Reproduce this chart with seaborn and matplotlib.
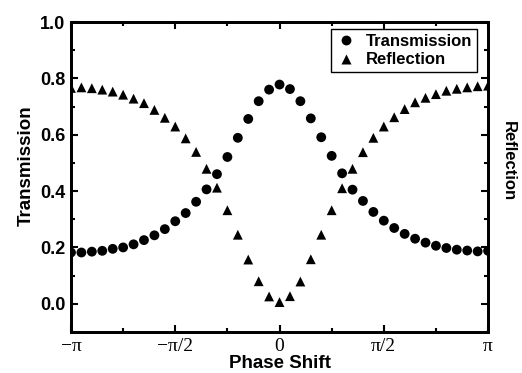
import numpy as np
import pandas as pd
import seaborn as sns
import matplotlib.pyplot as plt
from matplotlib.ticker import MultipleLocator

# phase shift samples, -pi .. pi in steps of pi/20
phase_steps = list(range(-20, 21))

transmission = [0.182, 0.182, 0.185, 0.188, 0.195, 0.200, 0.211, 0.226, 0.243, 0.265,
                0.293, 0.322, 0.362, 0.406, 0.460, 0.521, 0.589, 0.656, 0.719, 0.760,
                0.778, 0.762, 0.719, 0.658, 0.591, 0.525, 0.463, 0.405, 0.365, 0.326,
                0.295, 0.269, 0.248, 0.231, 0.217, 0.206, 0.198, 0.192, 0.189, 0.186,
                0.188]

reflection = [0.766, 0.768, 0.765, 0.760, 0.753, 0.742, 0.728, 0.712, 0.688, 0.660,
              0.629, 0.587, 0.539, 0.479, 0.412, 0.332, 0.245, 0.157, 0.080, 0.026,
              0.006, 0.027, 0.079, 0.158, 0.245, 0.332, 0.410, 0.479, 0.538, 0.589,
              0.629, 0.662, 0.691, 0.715, 0.731, 0.744, 0.756, 0.763, 0.768, 0.772,
              0.774]

xtick_labels = ['\u2212\u03c0', '\u2212\u03c0/2', '0', '\u03c0/2', '\u03c0']

phase = np.array(phase_steps) * np.pi / 20
df = pd.DataFrame({
    'phase': np.concatenate([phase, phase]),
    'value': transmission + reflection,
    'series': ['Transmission'] * len(phase) + ['Reflection'] * len(phase),
})

sns.set_style('ticks')
plt.rcParams['font.family'] = ['Liberation Sans', 'DejaVu Sans']
plt.rcParams['text.color'] = 'black'
plt.rcParams['axes.labelcolor'] = 'black'
plt.rcParams['xtick.color'] = 'black'
plt.rcParams['ytick.color'] = 'black'

fig = plt.figure(figsize=(5.22, 3.73), dpi=100)
ax = fig.add_axes([0.136, 0.110, 0.799, 0.831])

sns.scatterplot(data=df, x='phase', y='value', style='series',
                markers={'Transmission': 'o', 'Reflection': '^'},
                color='black', s=50, edgecolor='none', ax=ax)

ax.set_xlim(-np.pi, np.pi)
ax.set_ylim(-0.1, 1.0)
ax.set_xticks([-np.pi, -np.pi / 2, 0, np.pi / 2, np.pi])
ax.set_xticklabels(xtick_labels, fontfamily='Liberation Serif', fontsize=14)
ax.xaxis.set_minor_locator(MultipleLocator(np.pi / 4))
ax.yaxis.set_major_locator(MultipleLocator(0.2))
ax.yaxis.set_minor_locator(MultipleLocator(0.1))
for lab in ax.get_yticklabels():
    lab.set_fontweight('bold')
    lab.set_fontsize(13)

ax.tick_params(which='both', direction='in', top=True, width=1.5, colors='black')
ax.tick_params(which='major', length=5, pad=4)
ax.tick_params(which='minor', length=3)
for sp in ax.spines.values():
    sp.set_linewidth(2)
    sp.set_visible(True)
    sp.set_color('black')

ax.set_xlabel('Phase Shift', fontsize=13.5, fontweight='bold', labelpad=0)
ax.set_ylabel('Transmission', fontsize=13.5, fontweight='bold', labelpad=4)
ax.yaxis.label.set_y(0.535)

# right axis only carries the Reflection label and ticks
ax2 = ax.twinx()
ax2.set_ylim(-0.1, 1.0)
ax2.yaxis.set_major_locator(MultipleLocator(0.2))
ax2.yaxis.set_minor_locator(MultipleLocator(0.1))
ax2.tick_params(which='both', direction='in', labelright=False, width=1.5, colors='black')
ax2.tick_params(which='major', length=5)
ax2.tick_params(which='minor', length=3)
ax2.set_ylabel('Reflection', fontsize=12, fontweight='bold', rotation=-90, labelpad=20)
ax2.yaxis.label.set_y(0.55)
for sp in ax2.spines.values():
    sp.set_linewidth(2)
    sp.set_color('black')

handles, labels = ax.get_legend_handles_labels()
leg = ax.legend(handles, labels, loc='upper right', bbox_to_anchor=(0.974, 0.977),
                borderaxespad=0, fancybox=False, framealpha=1, edgecolor='black',
                prop={'weight': 'bold', 'size': 12}, handletextpad=0.6,
                borderpad=0.3, labelspacing=0.2, handlelength=1.2)
leg.get_frame().set_linewidth(1)

fig.savefig('out.png', dpi=100)
